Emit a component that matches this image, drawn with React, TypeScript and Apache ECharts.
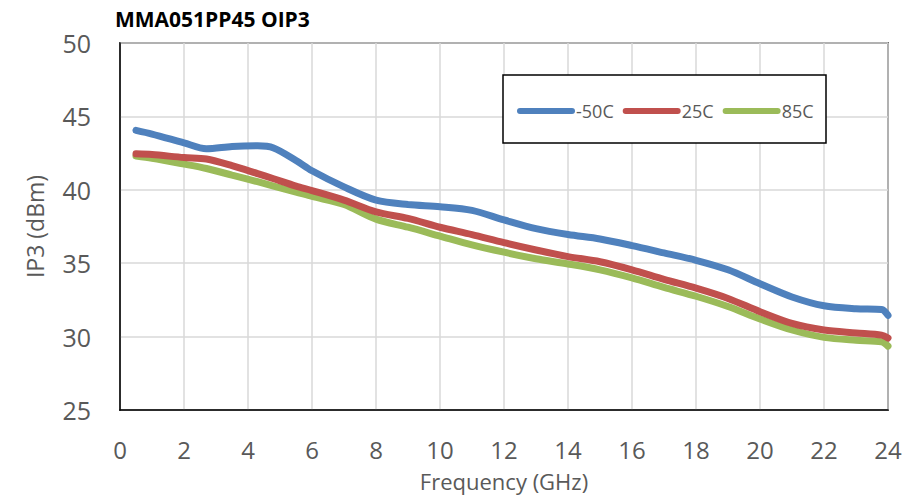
import React, { useEffect, useRef } from "react";
import * as echarts from "echarts";

const freqs = [0.5, 1, 2, 2.7, 3.5, 4.3, 4.8, 5.5, 6, 7, 8, 9, 10, 11, 12, 13, 14, 15, 16, 17, 18, 19, 20, 21, 22, 23, 23.8, 24];
const m50C = [44.05, 43.8, 43.2, 42.8, 42.95, 43.0, 42.85, 42.0, 41.3, 40.2, 39.3, 39.0, 38.85, 38.6, 37.95, 37.35, 36.95, 36.65, 36.2, 35.7, 35.2, 34.55, 33.6, 32.7, 32.1, 31.9, 31.85, 31.45];
const p25C = [42.45, 42.4, 42.2, 42.1, 41.65, 41.1, 40.75, 40.25, 39.95, 39.3, 38.5, 38.05, 37.45, 36.95, 36.4, 35.9, 35.45, 35.1, 34.55, 33.9, 33.3, 32.6, 31.7, 30.9, 30.45, 30.25, 30.1, 29.9];
const p85C = [42.3, 42.15, 41.75, 41.45, 41.0, 40.55, 40.25, 39.85, 39.55, 39.0, 38.0, 37.45, 36.85, 36.25, 35.75, 35.3, 34.95, 34.55, 34.0, 33.35, 32.75, 32.05, 31.2, 30.45, 29.95, 29.75, 29.65, 29.35];
const seriesNames = ["-50C", "25C", "85C"];
const seriesColors = ["#4F81BD", "#C0504D", "#9BBB59"];

const FONT = "'Open Sans', Lato, sans-serif";

export default function App() {
  const ref = useRef<HTMLDivElement>(null);
  useEffect(() => {
    if (!ref.current) return;
    const chart = echarts.init(ref.current, null, { renderer: "svg" });
    const all = [m50C, p25C, p85C];
    chart.setOption({
      animation: false,
      title: {
        text: "MMA051PP45 OIP3",
        left: 110,
        top: 3,
        textStyle: { fontFamily: FONT, fontWeight: "bold", fontSize: 21, color: "#000" },
      },
      grid: {
        left: 120,
        top: 43,
        right: 26,
        bottom: 92,
        show: true,
        borderColor: "#000",
        borderWidth: 1.5,
        backgroundColor: "transparent",
      },
      graphic: [
        {
          type: "rect",
          shape: { x: 503, y: 75, width: 323, height: 68 },
          style: { fill: "#fff", stroke: "#000", lineWidth: 1.5 },
          z: 10,
        },
      ],
      legend: {
        left: 512,
        top: 97,
        z: 20,
        itemWidth: 58,
        itemHeight: 6,
        itemGap: 9,
        icon: "path://M3,0 h52 a3,3 0 0 1 0,6 h-52 a3,3 0 0 1 0,-6z",
        textStyle: { fontFamily: FONT, fontSize: 18, color: "#595959", padding: [0, 0, 0, -4] },
        data: seriesNames,
      },
      xAxis: {
        type: "value",
        min: 0,
        max: 24,
        interval: 2,
        name: "Frequency (GHz)",
        nameLocation: "middle",
        nameGap: 60,
        nameTextStyle: { fontFamily: FONT, fontSize: 22, lineHeight: 22, color: "#595959" },
        axisLine: { show: true, lineStyle: { color: "#000", width: 1.5 } },
        axisTick: { show: false },
        axisLabel: { margin: 29, fontFamily: FONT, fontSize: 24, lineHeight: 20, color: "#595959" },
        splitLine: { show: true, lineStyle: { color: "#D9D9D9", width: 1.5 } },
      },
      yAxis: {
        type: "value",
        min: 25,
        max: 50,
        interval: 5,
        name: "IP3 (dBm)",
        nameLocation: "middle",
        nameGap: 74,
        nameTextStyle: { fontFamily: FONT, fontSize: 23, color: "#595959" },
        axisLine: { show: true, lineStyle: { color: "#000", width: 1.5 } },
        axisTick: { show: false },
        axisLabel: { margin: 29, fontFamily: FONT, fontSize: 25, color: "#595959" },
        splitLine: { show: true, lineStyle: { color: "#D9D9D9", width: 1.5 } },
      },
      series: seriesNames.map((name, i) => ({
        name,
        type: "line",
        smooth: 0.3,
        showSymbol: false,
        symbol: "none",
        color: seriesColors[i],
        lineStyle: { width: 7, color: seriesColors[i], cap: "round" },
        data: freqs.map((f, j) => [f, all[i][j]]),
        z: 3 - i + 2,
      })),
    });
    return () => chart.dispose();
  }, []);
  return <div ref={ref} style={{ width: 914, height: 502, position: "absolute", left: 0, top: 0 }} />;
}
